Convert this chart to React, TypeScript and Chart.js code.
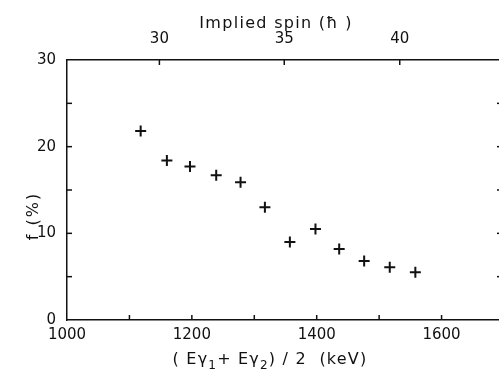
import React, { useEffect, useRef } from "react";
import { Chart, registerables } from "chart.js";

Chart.register(...registerables);

// Data
const energies = [1118, 1160, 1197, 1239, 1278, 1317, 1357, 1398, 1436, 1476, 1517, 1558];
const fractions = [21.8, 18.4, 17.7, 16.7, 15.9, 13.0, 9.0, 10.5, 8.2, 6.8, 6.1, 5.5];

// Top axis: implied spin labels placed at their energies
const spinLabels = ["30", "35", "40"];
const spinEnergies = [1148, 1348, 1533];

const xMin = 1000;
const xMax = 1700;
const xLabelled = [1000, 1200, 1400, 1600];
const yMin = 0;
const yMax = 30;
const yLabelled = [0, 10, 20, 30];

const FONT = "'DejaVu Sans', sans-serif";
const INK = "#111";

function drawRich(ctx: any, parts: [string, boolean][], cx: number, baseline: number, size: number) {
  const subSize = Math.round(size * 0.75);
  const widths = parts.map(([t, sub]) => {
    ctx.font = `${sub ? subSize : size}px ${FONT}`;
    return ctx.measureText(t).width;
  });
  const total = widths.reduce((a, b) => a + b, 0);
  let x = cx - total / 2;
  ctx.textAlign = "left";
  ctx.textBaseline = "alphabetic";
  parts.forEach(([t, sub], i) => {
    ctx.font = `${sub ? subSize : size}px ${FONT}`;
    ctx.fillText(t, x, baseline + (sub ? 5 : 0));
    x += widths[i];
  });
}

const inwardTicks = {
  id: "inwardTicks",
  afterDraw(chart: any) {
    const ctx = chart.ctx;
    const a = chart.chartArea;
    ctx.save();
    ctx.strokeStyle = INK;
    ctx.lineWidth = 1.5;
    const L = 5;
    const xs = chart.scales.x;
    xs.ticks.forEach((t: any) => {
      if (t.value <= xMin || t.value >= xMax) return;
      const p = xs.getPixelForValue(t.value);
      ctx.beginPath();
      ctx.moveTo(p, a.bottom);
      ctx.lineTo(p, a.bottom - L);
      ctx.stroke();
    });
    const xt = chart.scales.xTop;
    xt.ticks.forEach((t: any) => {
      const p = xt.getPixelForValue(t.value);
      ctx.beginPath();
      ctx.moveTo(p, a.top);
      ctx.lineTo(p, a.top + L);
      ctx.stroke();
    });
    const ys = chart.scales.y;
    ys.ticks.forEach((t: any) => {
      if (t.value <= yMin || t.value >= yMax) return;
      const p = ys.getPixelForValue(t.value);
      ctx.beginPath();
      ctx.moveTo(a.left, p);
      ctx.lineTo(a.left + L, p);
      ctx.stroke();
      ctx.beginPath();
      ctx.moveTo(a.right, p);
      ctx.lineTo(a.right - L - 2, p);
      ctx.stroke();
    });
    // axis titles
    ctx.fillStyle = INK;
    ctx.letterSpacing = "1.3px";
    ctx.font = `16px ${FONT}`;
    ctx.textAlign = "center";
    ctx.textBaseline = "alphabetic";
    ctx.fillText("Implied spin (\u0127 )", 276, 28);
    ctx.letterSpacing = "1.2px";
    drawRich(
      ctx,
      [
        ["( E\u03B3", false],
        ["1", true],
        ["+ E\u03B3", false],
        ["2", true],
        [") / 2  (keV)", false],
      ],
      270,
      364,
      16
    );
    ctx.save();
    ctx.translate(34, 216);
    ctx.rotate(-Math.PI / 2);
    ctx.font = `16px ${FONT}`;
    ctx.letterSpacing = "2px";
    ctx.textAlign = "center";
    ctx.textBaseline = "middle";
    ctx.fillText("f (%)", 0, 0);
    ctx.restore();
    ctx.restore();
  },
};

export default function App() {
  const ref = useRef<HTMLCanvasElement | null>(null);
  useEffect(() => {
    document.body.style.margin = "0";
    const canvas = ref.current!;
    const tickFont = { family: FONT, size: 15 };
    const chart = new Chart(canvas, {
      type: "scatter",
      data: {
        datasets: [
          {
            data: energies.map((e, i) => ({ x: e, y: fractions[i] })),
            pointStyle: "cross",
            pointRadius: 5.5,
            pointBorderWidth: 2,
            borderColor: INK,
            backgroundColor: INK,
          },
        ],
      },
      options: {
        responsive: false,
        animation: false,
        layout: { padding: 0, autoPadding: false },
        plugins: { legend: { display: false }, tooltip: { enabled: false } },
        scales: {
          x: {
            type: "linear",
            position: "bottom",
            min: xMin,
            max: xMax,
            ticks: {
              stepSize: 100,
              autoSkip: false,
              maxRotation: 0,
              padding: 6,
              color: INK,
              font: tickFont,
              callback: (v: any) => (xLabelled.includes(Number(v)) ? String(v) : ""),
            },
            grid: { display: false, drawTicks: false },
            border: { display: true, color: INK, width: 1.5 },
            afterFit: (s: any) => {
              s.height = 56;
            },
          },
          xTop: {
            type: "linear",
            position: "top",
            min: xMin,
            max: xMax,
            afterBuildTicks: (s: any) => {
              s.ticks = spinEnergies.map((v) => ({ value: v }));
            },
            ticks: {
              autoSkip: false,
              maxRotation: 0,
              padding: 12,
              color: INK,
              font: tickFont,
              callback: (_v: any, i: number) => spinLabels[i],
            },
            grid: { display: false, drawTicks: false },
            border: { display: true, color: INK, width: 1.5 },
            afterFit: (s: any) => {
              s.height = 60;
            },
          },
          y: {
            type: "linear",
            position: "left",
            min: yMin,
            max: yMax,
            ticks: {
              stepSize: 5,
              autoSkip: false,
              padding: 11,
              color: INK,
              font: tickFont,
              callback: (v: any) => (yLabelled.includes(Number(v)) ? String(v) : ""),
            },
            grid: { display: false, drawTicks: false },
            border: { display: true, color: INK, width: 1.5 },
            afterFit: (s: any) => {
              s.width = 67;
            },
          },
          yRight: {
            type: "linear",
            position: "right",
            min: yMin,
            max: yMax,
            ticks: { display: false },
            grid: { display: false, drawTicks: false },
            border: { display: true, color: INK, width: 1.5 },
            afterFit: (s: any) => {
              s.width = 3;
            },
          },
        },
      },
      plugins: [inwardTicks],
    });
    return () => chart.destroy();
  }, []);
  return (
    <div
      style={{
        position: "fixed",
        left: 0,
        top: 0,
        width: 499,
        height: 376,
        overflow: "hidden",
        background: "#fff",
      }}
    >
      <canvas ref={ref} width={510} height={376} style={{ display: "block" }} />
    </div>
  );
}
